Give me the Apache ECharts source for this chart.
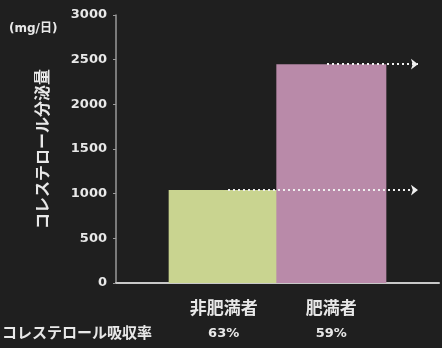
<!DOCTYPE html>
<html>
<head>
<meta charset="utf-8">
<script src="https://cdn.jsdelivr.net/npm/echarts@6/dist/echarts.min.js"></script>
<style>
html,body{margin:0;padding:0;background:#1f1f1f;}
#c{width:442px;height:348px;}
</style>
</head>
<body>
<div id="c"></div>
<script>
var categories = ['', '非肥満者', '肥満者', ''];
var secretion = [null, 1040, 2450, null];
var absorption = ['', '63%', '59%', ''];
var barColors = ['#c9d490', '#b98aa9'];
var yTicks = [0, 500, 1000, 1500, 2000, 2500, 3000];
var yAxisTitle = 'コレステロール分泌量';
var unitLabel = '(mg/日)';
var absorptionTitle = 'コレステロール吸収率';

var txt = '#e8e8e8';
var font = '"DejaVu Sans", "Noto Sans CJK JP", sans-serif';

var chart = echarts.init(document.getElementById('c'), null, {renderer: 'canvas'});
var barData = secretion.map(function (v, i) {
  if (v == null) return null;
  return {value: v, itemStyle: {color: barColors[i - 1]}};
});
var arrowStarts = [0, 228, 327, 0];
var markData = [];
secretion.forEach(function (v, i) {
  if (v == null) return;
  markData.push([{xAxis: categories[i], yAxis: v, x: arrowStarts[i]}, {xAxis: categories[i], yAxis: v, x: 418}]);
});

chart.setOption({
  backgroundColor: '#1f1f1f',
  animation: false,
  textStyle: {fontFamily: font},
  grid: {left: 116, top: 15, bottom: 65, width: 330},
  xAxis: {
    type: 'category',
    data: categories,
    boundaryGap: false,
    axisLine: {show: true, lineStyle: {color: '#c8c8c8', width: 2}},
    axisTick: {show: false},
    splitLine: {show: false},
    axisLabel: {
      interval: 0,
      margin: 12,
      formatter: function (val, idx) {
        if (!val) return '';
        return '{n|' + val + '}\n{p|' + absorption[idx] + '}';
      },
      rich: {
        n: {fontSize: 17, fontWeight: 'bold', color: txt, lineHeight: 26, fontFamily: '"Noto Sans CJK JP", sans-serif'},
        p: {fontSize: 13, fontWeight: 'bold', color: txt, lineHeight: 26, fontFamily: font}
      }
    }
  },
  yAxis: {
    type: 'value',
    min: yTicks[0],
    max: yTicks[yTicks.length - 1],
    interval: yTicks[1] - yTicks[0],
    name: yAxisTitle,
    nameLocation: 'middle',
    nameRotate: 90,
    nameGap: 66,
    nameTextStyle: {color: txt, fontSize: 16, fontWeight: 'bold', fontFamily: '"Noto Sans CJK JP", sans-serif'},
    axisLine: {show: true, lineStyle: {color: '#9a9a9a', width: 1.5}},
    axisTick: {show: true, length: 3, lineStyle: {color: '#9a9a9a'}},
    splitLine: {show: false},
    axisLabel: {color: txt, fontSize: 13, fontWeight: 'bold', margin: 9, fontFamily: font,
      formatter: function (v) { return String(v); }}
  },
  series: [{
    type: 'bar',
    data: barData,
    barWidth: 110,
    barGap: '0%',
    markLine: {
      silent: true,
      symbol: ['none', 'arrow'],
      symbolSize: [8, 7],
      label: {show: false},
      lineStyle: {color: '#f0f0f0', type: [2, 3], width: 2},
      data: markData
    }
  }],
  graphic: [
    {type: 'text', left: 9, top: 23, style: {text: unitLabel, fill: txt, font: 'bold 12px ' + font}},
    {type: 'text', left: 2, top: 325, style: {text: absorptionTitle, fill: txt, font: 'bold 15px "Noto Sans CJK JP", sans-serif'}}
  ]
});
</script>
</body>
</html>
